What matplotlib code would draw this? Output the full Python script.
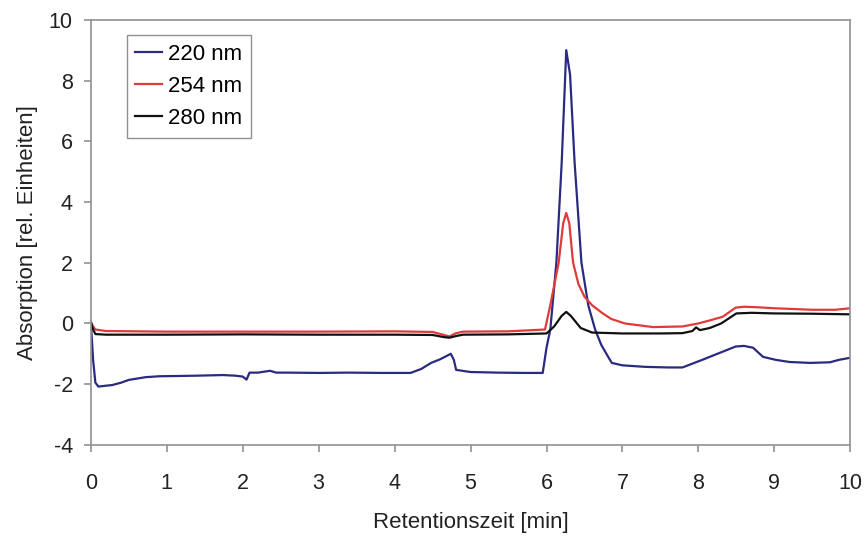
import matplotlib
matplotlib.use('Agg')
import matplotlib.pyplot as plt

plt.rcParams['font.family'] = ['Liberation Sans', 'DejaVu Sans']
plt.rcParams['axes.unicode_minus'] = False

# 220 nm trace (time in min, absorption)
t_220 = [0.0, 0.03, 0.06, 0.1, 0.2, 0.28, 0.4, 0.5, 0.6, 0.72, 0.9, 1.17, 1.4, 1.74, 1.9, 2.0,
         2.05, 2.09, 2.2, 2.36, 2.44, 2.6, 3.0, 3.4, 3.82, 4.21, 4.35, 4.48, 4.6, 4.74, 4.78,
         4.81, 5.0, 5.36, 5.7, 5.95, 6.0, 6.05, 6.13, 6.2, 6.26, 6.31, 6.37, 6.46, 6.55, 6.64,
         6.72, 6.8, 6.86, 7.0, 7.3, 7.6, 7.79, 8.05, 8.32, 8.49, 8.6, 8.72, 8.85, 9.02, 9.2,
         9.47, 9.73, 9.85, 10.0]
a_220 = [0.05, -1.2, -1.95, -2.08, -2.05, -2.03, -1.95, -1.86, -1.82, -1.77, -1.74, -1.73, -1.72,
         -1.7, -1.72, -1.75, -1.85, -1.62, -1.62, -1.56, -1.62, -1.62, -1.63, -1.62, -1.63,
         -1.63, -1.5, -1.3, -1.18, -1.0, -1.2, -1.53, -1.6, -1.62, -1.63, -1.63, -0.8, -0.2,
         2.0, 5.3, 9.0, 8.2, 5.3, 2.0, 0.6, -0.2, -0.7, -1.05, -1.3, -1.38, -1.43, -1.45, -1.45,
         -1.2, -0.93, -0.76, -0.74, -0.8, -1.1, -1.2, -1.27, -1.3, -1.28, -1.2, -1.13]

# 254 nm trace
t_254 = [0.0, 0.03, 0.06, 0.2, 1.0, 2.0, 3.0, 4.0, 4.5, 4.65, 4.72, 4.8, 4.9, 5.5, 5.98, 6.05,
         6.16, 6.22, 6.26, 6.3, 6.35, 6.42, 6.5, 6.6, 6.73, 6.85, 7.03, 7.4, 7.79, 8.0, 8.15,
         8.32, 8.49, 8.6, 8.8, 9.0, 9.5, 9.8, 10.0]
a_254 = [0.05, -0.1, -0.2, -0.25, -0.27, -0.27, -0.27, -0.26, -0.28, -0.38, -0.43, -0.33, -0.27,
         -0.26, -0.2, 0.6, 2.0, 3.3, 3.64, 3.3, 2.0, 1.3, 0.88, 0.6, 0.35, 0.15, 0.0, -0.12,
         -0.1, 0.0, 0.1, 0.22, 0.52, 0.55, 0.53, 0.5, 0.45, 0.45, 0.5]

# 280 nm trace
t_280 = [0.0, 0.03, 0.06, 0.2, 1.0, 2.0, 3.0, 4.0, 4.5, 4.65, 4.72, 4.8, 4.9, 5.5, 6.0, 6.1,
         6.2, 6.26, 6.32, 6.45, 6.6, 7.0, 7.5, 7.79, 7.92, 7.97, 8.02, 8.15, 8.3, 8.5, 8.7,
         9.0, 9.5, 10.0]
a_280 = [0.05, -0.2, -0.35, -0.37, -0.37, -0.36, -0.37, -0.37, -0.38, -0.45, -0.47, -0.42,
         -0.37, -0.36, -0.33, -0.1, 0.25, 0.38, 0.25, -0.15, -0.3, -0.33, -0.33, -0.32, -0.25,
         -0.13, -0.22, -0.15, 0.0, 0.33, 0.35, 0.33, 0.32, 0.3]

fig = plt.figure(figsize=(8.65, 5.36), dpi=100)
ax = fig.add_axes([0.105, 0.170, 0.878, 0.793])

ax.plot(t_220, a_220, color='#2a2a80', linewidth=1.6, label='220 nm')
ax.plot(t_254, a_254, color='#e03a3a', linewidth=1.6, label='254 nm')
ax.plot(t_280, a_280, color='#111111', linewidth=1.6, label='280 nm')

ax.set_xlim(0, 10)
ax.set_ylim(-4, 10)
ax.set_xticks(range(0, 11))
ax.set_yticks(range(-4, 11, 2))

for sp in ax.spines.values():
    sp.set_color('#909090')
    sp.set_linewidth(1.2)
ax.tick_params(direction='out', length=5, width=1.2, color='#909090',
               labelsize=15.5, labelcolor='#222222')
ax.tick_params(axis='x', pad=15)
ax.tick_params(axis='y', pad=8)

ax.set_xlabel('Retentionszeit [min]', fontsize=16, color='#222222', labelpad=13)
ax.set_ylabel('Absorption [rel. Einheiten]', fontsize=16, color='#222222', labelpad=8)

leg = ax.legend(loc='upper left', bbox_to_anchor=(0.047, 0.965), fontsize=16,
                fancybox=False, framealpha=1, edgecolor='#909090',
                handlelength=1.2, handletextpad=0.25, labelspacing=0.5,
                borderpad=0.4, borderaxespad=0)
leg.get_frame().set_linewidth(1.0)

fig.savefig('out.png', dpi=100)
